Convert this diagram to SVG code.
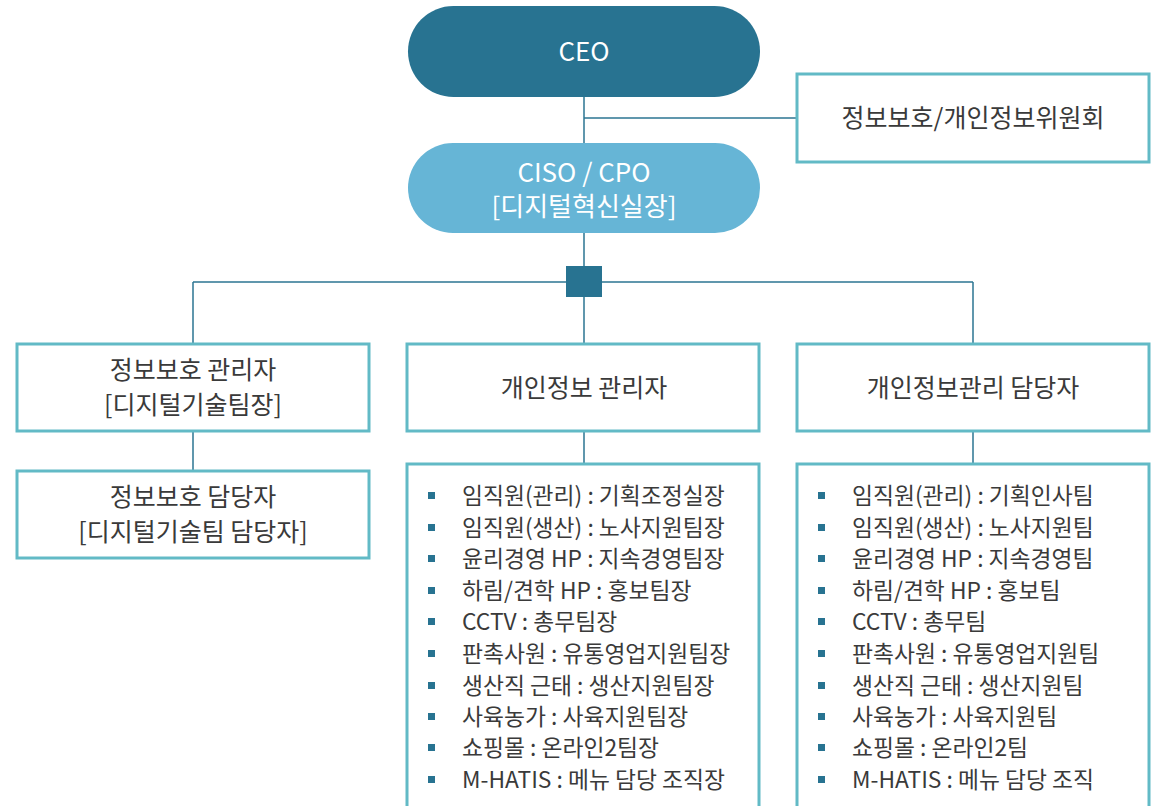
<svg xmlns="http://www.w3.org/2000/svg" width="1163" height="806" viewBox="0 0 1163 806">
<style>
.t{font-family:"Noto Sans CJK KR","Noto Sans",sans-serif;font-size:25px;fill:#3a3a3a;text-anchor:middle}
.w{font-family:"Noto Sans CJK KR","Noto Sans",sans-serif;font-size:26px;fill:#ffffff;text-anchor:middle}
.l{font-family:"Noto Sans CJK KR","Noto Sans",sans-serif;font-size:22.8px;fill:#3a3a3a}
.box{fill:#ffffff;stroke:#62bac6;stroke-width:3}
.ln{fill:none;stroke:#2c7592;stroke-width:1.5}
.b{fill:#287391}
</style>
<rect width="1163" height="806" fill="#ffffff"/>
<g id="connectors">
<path class="ln" d="M584 97V143M584 118H797"/>
<path class="ln" d="M584 233V282M193 282H973M193 282V343M584 282V344M973 282V344"/>
<path class="ln" d="M193 432V471M584 432V464M973 432V464"/>
<rect x="566" y="266" width="36" height="31" fill="#287391"/>
</g>
<g id="ceo">
<rect x="408" y="6" width="352" height="91" rx="45.5" fill="#287391"/>
<text class="w" x="584" y="61">CEO</text>
</g>
<g id="committee">
<rect class="box" x="797" y="74" width="352" height="88"/>
<text class="t" x="973" y="127">정보보호/개인정보위원회</text>
</g>
<g id="ciso">
<rect x="408" y="143" width="352" height="90" rx="45" fill="#66b5d6"/>
<text class="w" x="584" y="182">CISO / CPO</text>
<text class="w" x="584" y="216">[디지털혁신실장]</text>
</g>
<g id="security-manager">
<rect class="box" x="17" y="344" width="352" height="87"/>
<text class="t" x="193" y="379">정보보호 관리자</text>
<text class="t" x="193" y="414">[디지털기술팀장]</text>
</g>
<g id="security-officer">
<rect class="box" x="17" y="471" width="352" height="87"/>
<text class="t" x="193" y="506">정보보호 담당자</text>
<text class="t" x="193" y="541">[디지털기술팀 담당자]</text>
</g>
<g id="privacy-manager">
<rect class="box" x="407" y="344" width="352" height="87"/>
<text class="t" x="584" y="397">개인정보 관리자</text>
</g>
<g id="privacy-officer">
<rect class="box" x="797" y="344" width="352" height="87"/>
<text class="t" x="973" y="397">개인정보관리 담당자</text>
</g>
<g id="privacy-manager-list">
<rect class="box" x="407" y="464" width="352" height="350"/>
<g class="b">
<rect x="428" y="492" width="7" height="7"/><rect x="428" y="524" width="7" height="7"/><rect x="428" y="555" width="7" height="7"/><rect x="428" y="587" width="7" height="7"/><rect x="428" y="618" width="7" height="7"/><rect x="428" y="650" width="7" height="7"/><rect x="428" y="682" width="7" height="7"/><rect x="428" y="713" width="7" height="7"/><rect x="428" y="744" width="7" height="7"/><rect x="428" y="776" width="7" height="7"/>
</g>
<text class="l" x="462" y="504">임직원(관리) : 기획조정실장</text>
<text class="l" x="462" y="536">임직원(생산) : 노사지원팀장</text>
<text class="l" x="462" y="567">윤리경영 HP : 지속경영팀장</text>
<text class="l" x="462" y="599">하림/견학 HP : 홍보팀장</text>
<text class="l" x="462" y="630">CCTV : 총무팀장</text>
<text class="l" x="462" y="662">판촉사원 : 유통영업지원팀장</text>
<text class="l" x="462" y="694">생산직 근태 : 생산지원팀장</text>
<text class="l" x="462" y="725">사육농가 : 사육지원팀장</text>
<text class="l" x="462" y="756">쇼핑몰 : 온라인2팀장</text>
<text class="l" x="462" y="788">M-HATIS : 메뉴 담당 조직장</text>
</g>
<g id="privacy-officer-list">
<rect class="box" x="797" y="464" width="352" height="350"/>
<g class="b">
<rect x="818" y="492" width="7" height="7"/><rect x="818" y="524" width="7" height="7"/><rect x="818" y="555" width="7" height="7"/><rect x="818" y="587" width="7" height="7"/><rect x="818" y="618" width="7" height="7"/><rect x="818" y="650" width="7" height="7"/><rect x="818" y="682" width="7" height="7"/><rect x="818" y="713" width="7" height="7"/><rect x="818" y="744" width="7" height="7"/><rect x="818" y="776" width="7" height="7"/>
</g>
<text class="l" x="852" y="504">임직원(관리) : 기획인사팀</text>
<text class="l" x="852" y="536">임직원(생산) : 노사지원팀</text>
<text class="l" x="852" y="567">윤리경영 HP : 지속경영팀</text>
<text class="l" x="852" y="599">하림/견학 HP : 홍보팀</text>
<text class="l" x="852" y="630">CCTV : 총무팀</text>
<text class="l" x="852" y="662">판촉사원 : 유통영업지원팀</text>
<text class="l" x="852" y="694">생산직 근태 : 생산지원팀</text>
<text class="l" x="852" y="725">사육농가 : 사육지원팀</text>
<text class="l" x="852" y="756">쇼핑몰 : 온라인2팀</text>
<text class="l" x="852" y="788">M-HATIS : 메뉴 담당 조직</text>
</g>
</svg>
